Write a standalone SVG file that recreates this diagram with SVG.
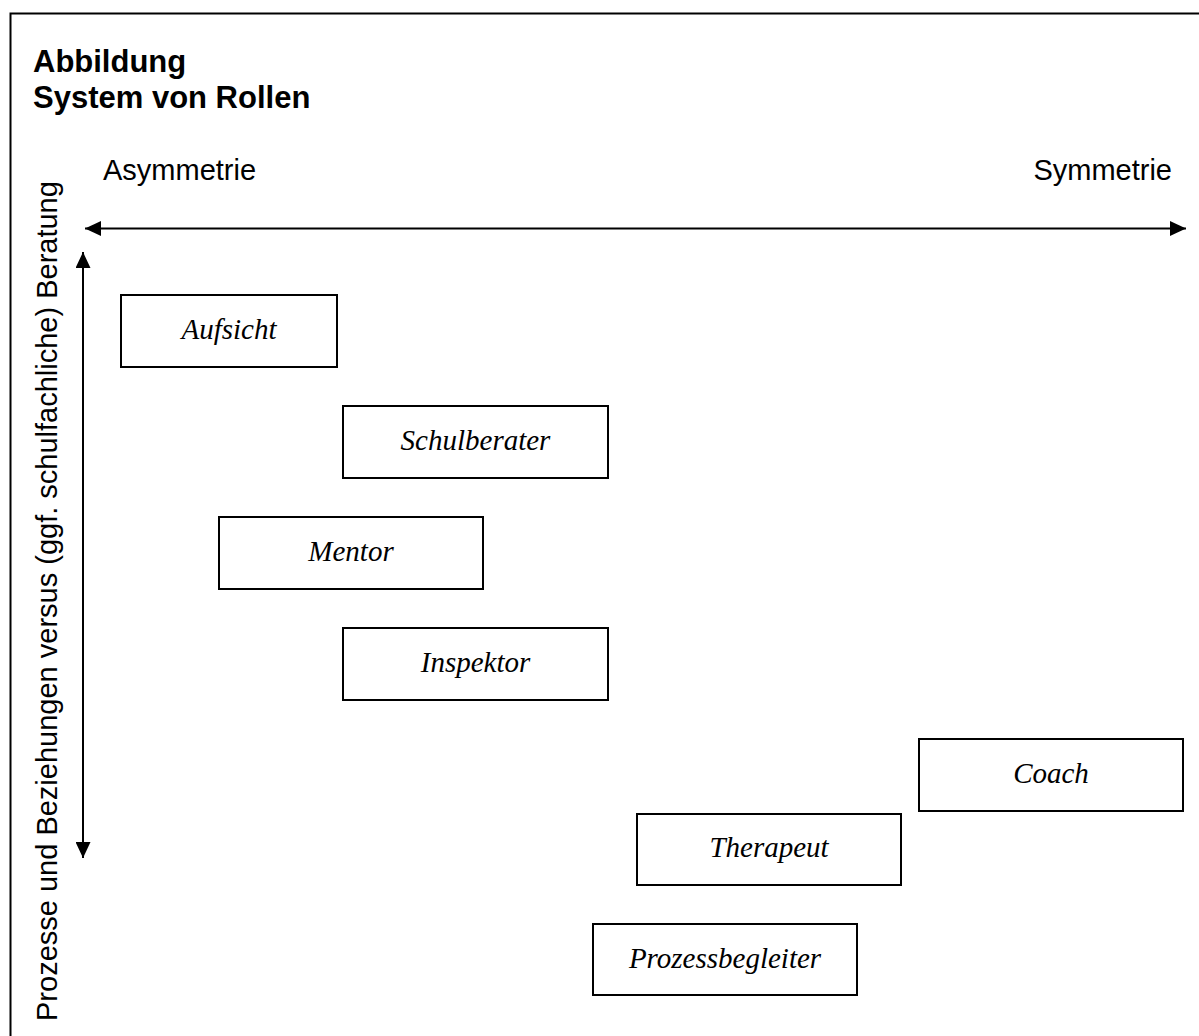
<svg xmlns="http://www.w3.org/2000/svg" width="1199" height="1036" viewBox="0 0 1199 1036">
  <style>
    .title { font-family: "Liberation Sans", Arial, sans-serif; font-weight: bold; font-size: 31px; fill: #000; }
    .axis { font-family: "Liberation Sans", Arial, sans-serif; font-size: 29px; fill: #000; }
    .box { fill: #fff; stroke: #000; stroke-width: 2; }
    .label { font-family: "Liberation Serif", "Times New Roman", serif; font-style: italic; font-size: 29px; fill: #000; text-anchor: middle; }
    .arrow { stroke: #000; stroke-width: 2; fill: none; }
  </style>
  <defs>
    <marker id="head" viewBox="0 0 16 15" refX="16" refY="7.5" markerWidth="16" markerHeight="15" markerUnits="userSpaceOnUse" orient="auto-start-reverse">
      <path d="M0,0 L16,7.5 L0,15 Z" fill="#000"/>
    </marker>
  </defs>

  <rect x="0" y="0" width="1199" height="1036" fill="#fff"/>
  <!-- frame, running past the right and bottom edges -->
  <rect x="10.5" y="13.5" width="1300" height="1100" fill="none" stroke="#000" stroke-width="2"/>

  <text class="title" x="33" y="72">Abbildung</text>
  <text class="title" x="33" y="108">System von Rollen</text>

  <text class="axis" x="103" y="180">Asymmetrie</text>
  <text class="axis" x="1172" y="180" text-anchor="end">Symmetrie</text>
  <text class="axis" transform="translate(57,1021) rotate(-90)">Prozesse und Beziehungen versus (ggf. schulfachliche) Beratung</text>

  <g id="connectors">
    <line class="arrow" x1="85" y1="228.5" x2="1186" y2="228.5" marker-start="url(#head)" marker-end="url(#head)"/>
    <line class="arrow" x1="83" y1="252" x2="83" y2="858" marker-start="url(#head)" marker-end="url(#head)"/>
  </g>

  <g id="aufsicht">
    <rect class="box" x="121" y="295" width="216" height="72"/>
    <text class="label" x="229" y="339">Aufsicht</text>
  </g>
  <g id="schulberater">
    <rect class="box" x="343" y="406" width="265" height="72"/>
    <text class="label" x="475.5" y="450">Schulberater</text>
  </g>
  <g id="mentor">
    <rect class="box" x="219" y="517" width="264" height="72"/>
    <text class="label" x="351" y="561">Mentor</text>
  </g>
  <g id="inspektor">
    <rect class="box" x="343" y="628" width="265" height="72"/>
    <text class="label" x="475.5" y="672">Inspektor</text>
  </g>
  <g id="coach">
    <rect class="box" x="919" y="739" width="264" height="72"/>
    <text class="label" x="1051" y="783">Coach</text>
  </g>
  <g id="therapeut">
    <rect class="box" x="637" y="814" width="264" height="71"/>
    <text class="label" x="769" y="857">Therapeut</text>
  </g>
  <g id="prozessbegleiter">
    <rect class="box" x="593" y="924" width="264" height="71"/>
    <text class="label" x="725" y="968">Prozessbegleiter</text>
  </g>
</svg>
